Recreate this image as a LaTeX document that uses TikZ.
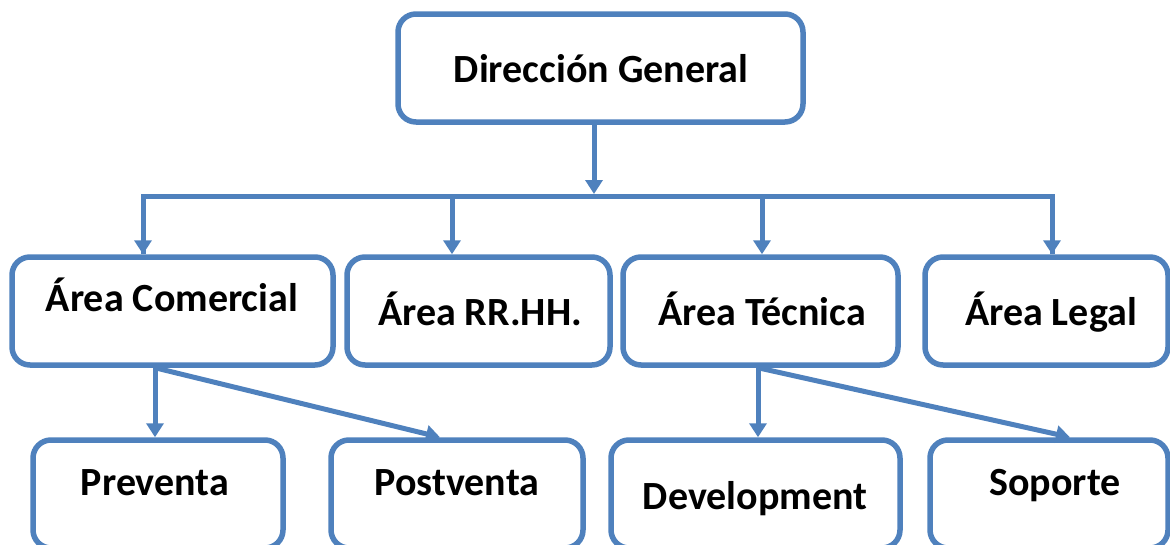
\documentclass[tikz,border=0pt]{standalone}
\usepackage{fontspec}
\setmainfont{Carlito}
\usetikzlibrary{arrows.meta}
\definecolor{orgblue}{HTML}{4F81BD}

\begin{document}
\begin{tikzpicture}[x=1pt,y=-1pt,
  box/.style={draw=orgblue, line width=5.5pt, rounded corners=18pt, fill=white, inner sep=0pt},
  lbl/.style={font=\fontsize{40}{46}\selectfont\bfseries, anchor=base, inner sep=0pt},
  link/.style={draw=orgblue, line width=5pt},
  arr/.style={link, -{Triangle[width=17pt,length=14pt]}}]
\useasboundingbox (0,0) rectangle (1170,544);
\clip (0,0) rectangle (1170,544);

% boxes
\node[box, minimum width=405pt, minimum height=108pt] (dir)  at (600.5,68) {};
\node[box, minimum width=321pt, minimum height=108pt] (com)  at (172.5,311) {};
\node[box, minimum width=263pt, minimum height=108pt] (rrhh) at (478.5,311) {};
\node[box, minimum width=275pt, minimum height=108pt] (tec)  at (760.5,311) {};
\node[box, minimum width=243pt, minimum height=108pt] (leg)  at (1046.5,311) {};
\node[box, minimum width=250pt, minimum height=108pt] (pre)  at (158,494) {};
\node[box, minimum width=252pt, minimum height=108pt] (post) at (457,494) {};
\node[box, minimum width=289pt, minimum height=108pt] (dev)  at (755.5,494) {};
\node[box, minimum width=238pt, minimum height=108pt] (sop)  at (1049,494) {};

% labels
\node[lbl] (dirT)  at (601,82)  {Dirección General};
\node[lbl] (comT)  at (172,311) {Área Comercial};
\node[lbl] (rrhhT) at (480,325) {Área RR.HH.};
\node[lbl] (tecT)  at (762,325) {Área Técnica};
\node[lbl] (legT)  at (1051,325) {Área Legal};
\node[lbl] (preT)  at (155,495) {Preventa};
\node[lbl] (postT) at (457,495) {Postventa};
\node[lbl] (devT)  at (755,509) {Development};
\node[lbl] (sopT)  at (1055,495) {Soporte};

% distribution bar
\coordinate (hub) at (594,194);
\coordinate (bL) at (143,196);
\coordinate (bR) at (1052,196);
\coordinate (b2) at (452,196);
\coordinate (b3) at (762,196);
\draw[arr] (hub |- dir.south) -- (hub);
\draw[link, line join=miter] (bL |- com.north) -- (bL) -- (bR) -- (bR |- leg.north);
\draw[arr] (bL) -- (bL |- com.north);
\draw[arr] (b2) -- (b2 |- rrhh.north);
\draw[arr] (b3) -- (b3 |- tec.north);
\draw[arr] (bR) -- (bR |- leg.north);

% sub-areas
\coordinate (cS) at (155,0);
\coordinate (pN) at (440,0);
\coordinate (tS) at (758,0);
\coordinate (sN) at (1070,0);
\draw[arr] (cS |- com.south) -- (cS |- pre.north);
\draw[arr] (cS |- com.south) -- (pN |- post.north);
\draw[arr] (tS |- tec.south) -- (tS |- dev.north);
\draw[arr] (tS |- tec.south) -- (sN |- sop.north);
\end{tikzpicture}
\end{document}
